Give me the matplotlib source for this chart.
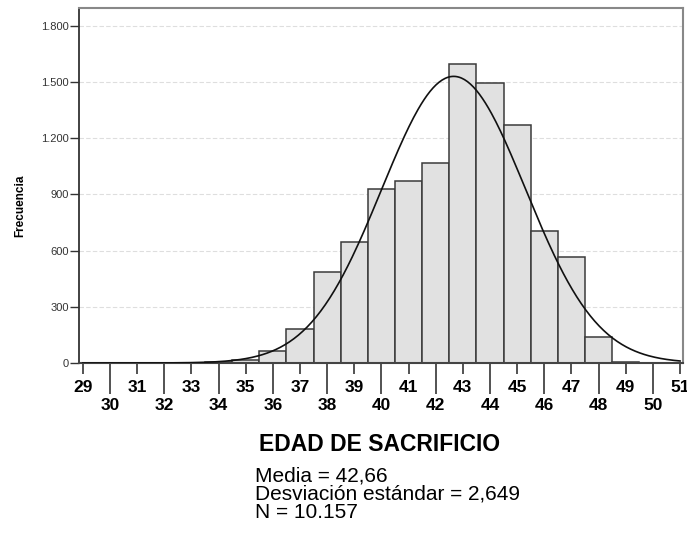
import numpy as np
import matplotlib
matplotlib.use("Agg")
import matplotlib.pyplot as plt
from matplotlib.ticker import FuncFormatter

# bins of width 1 centred on each age
edad = [34, 35, 36, 37, 38, 39, 40, 41, 42, 43, 44, 45, 46, 47, 48, 49]
frecuencia = [3, 14, 66, 184, 484, 648, 930, 973, 1068, 1596, 1496, 1271, 707, 565, 139, 4]

media = 42.66
desv = 2.649
n_total = 10157

odd_ticks = [29, 31, 33, 35, 37, 39, 41, 43, 45, 47, 49, 51]
even_ticks = [30, 32, 34, 36, 38, 40, 42, 44, 46, 48, 50]
y_ticks = [0, 300, 600, 900, 1200, 1500, 1800]
stats_lines = ['Media = 42,66', 'Desviación estándar = 2,649', 'N = 10.157']

plt.rcParams['font.family'] = ['Liberation Sans', 'DejaVu Sans']

fig = plt.figure(figsize=(6.87, 5.5), dpi=100)
ax = fig.add_axes([79/687, 1 - 363/550, (682.5-79)/687, (363-8.3)/550])

ax.bar(edad, frecuencia, width=1.0, color='#e1e1e1', edgecolor='#3a3a3a', linewidth=1.1, zorder=2)

# normal curve scaled to counts (bin width 1)
xs = np.linspace(29, 51, 400)
ys = n_total / (desv * np.sqrt(2*np.pi)) * np.exp(-0.5*((xs-media)/desv)**2)
ax.plot(xs, ys, color='#111111', linewidth=1.2, zorder=3)

ax.set_xlim(28.86, 51.09)
ax.set_ylim(0, 1893)

ax.set_yticks(y_ticks)
ax.yaxis.set_major_formatter(FuncFormatter(lambda v, p: '{:,.0f}'.format(v).replace(',', '.')))
ax.grid(axis='y', color='#dedede', linestyle=(0, (4, 2)), linewidth=0.8, zorder=0)
ax.tick_params(axis='y', length=6.5, width=1, color='#333333', pad=1, labelsize=8, labelcolor='#333333')

ax.set_xticks(odd_ticks)
ax.set_xticks(even_ticks, minor=True)
ax.set_xticklabels([str(v) for v in odd_ticks], fontsize=12.5, fontweight='bold')
ax.set_xticklabels([str(v) for v in even_ticks], minor=True, fontsize=12.5, fontweight='bold')
ax.tick_params(axis='x', which='major', length=8, width=1.3, color='#444444', pad=4)
ax.tick_params(axis='x', which='minor', length=22.5, width=1.3, color='#444444', pad=3)

for side in ['top', 'right']:
    ax.spines[side].set_color('#888888')
    ax.spines[side].set_linewidth(1.5)
ax.spines['left'].set_color('#333333')
ax.spines['left'].set_linewidth(1.3)
ax.spines['bottom'].set_color('#444444')
ax.spines['bottom'].set_linewidth(1.5)

fig.text(20/687, 1 - 206/550, 'Frecuencia', rotation=90, ha='center', va='center',
         fontsize=8.5, fontweight='bold')

fig.text(380/687, 1 - 451/550, 'EDAD DE SACRIFICIO', ha='center', va='baseline',
         fontsize=16.5, fontweight='bold')
for i, line in enumerate(stats_lines):
    fig.text(255/687, 1 - (481 + 18.5*i)/550, line, ha='left', va='baseline', fontsize=15)

fig.savefig('out.png', dpi=100)
